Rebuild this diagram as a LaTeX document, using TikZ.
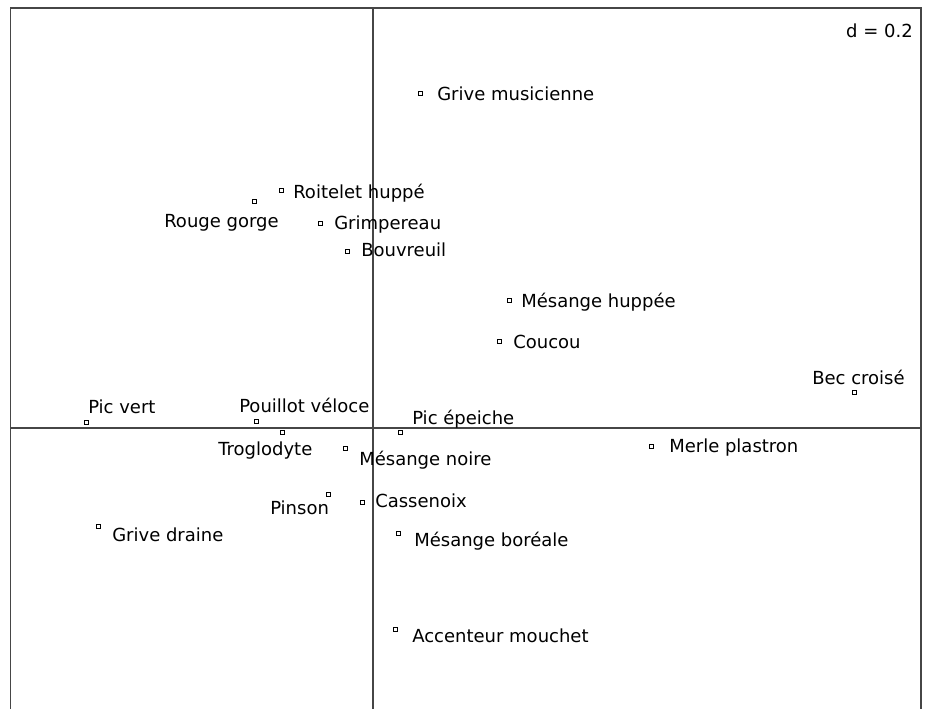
\documentclass[tikz,border=0pt]{standalone}
\usepackage{fontspec}
\setmainfont{DejaVu Sans}
\usepackage{xcolor}
\usetikzlibrary{positioning}
\definecolor{axisgray}{RGB}{70,70,70}

\begin{document}
\begin{tikzpicture}[
  x=0.75pt, y=-0.75pt,
  pt/.style={rectangle, draw=black, fill=white, line width=0.5pt,
             minimum size=3pt, inner sep=0pt},
  lbl/.style={anchor=mid west, inner sep=0pt, yshift=-2.25pt,
              font=\fontsize{13.5}{16}\selectfont},
  frame/.style={draw=axisgray, line width=0.9pt},
  axe/.style={draw=axisgray, line width=0.8pt},
]
  \useasboundingbox (0,0) rectangle (928,709);

  % frame and axes
  \draw[frame] (10.5,709) -- (10.5,8) -- (921,8) -- (921,709);
  \draw[frame, line width=1.4pt] (10.5,709) -- (10.5,8);
  \coordinate (vtop) at (373,8);
  \coordinate (vbot) at (373,709);
  \coordinate (hl) at (10.5,428);
  \coordinate (hr) at (921,428);
  \draw[axe] (vtop) -- (vbot);
  \draw[axe] (hl) -- (hr);
  \node[lbl, anchor=mid east] (scale) at (913,31) {d = 0.2};

  % species
  \node[pt] (gmus) at (420,93) {};
  \node[lbl] (gmusl) at (437,94) {Grive musicienne};
  \node[pt] (roit) at (281,190) {};
  \node[lbl] (roitl) at (293,192) {Roitelet huppé};
  \node[pt] (rouge) at (254,201) {};
  \node[lbl] (rougel) at (164,221) {Rouge gorge};
  \node[pt] (grim) at (320,223) {};
  \node[lbl] (griml) at (334,223) {Grimpereau};
  \node[pt] (bouv) at (347,251) {};
  \node[lbl] (bouvl) at (361,250) {Bouvreuil};
  \node[pt] (mhup) at (509,300) {};
  \node[lbl] (mhupl) at (521,301) {Mésange huppée};
  \node[pt] (couc) at (499,341) {};
  \node[lbl] (coucl) at (513,342) {Coucou};
  \node[pt] (bec) at (854,392) {};
  \node[lbl] (becl) at (812,378) {Bec croisé};
  \node[pt] (picv) at (86,422) {};
  \node[lbl] (picvl) at (88,407) {Pic vert};
  \node[pt] (pouil) at (256,421) {};
  \node[lbl] (pouill) at (239,406) {Pouillot véloce};
  \node[pt] (pice) at (400,432) {};
  \node[lbl] (picel) at (412,418) {Pic épeiche};
  \node[pt] (trog) at (282,432) {};
  \node[lbl] (trogl) at (218,449) {Troglodyte};
  \node[pt] (mnoi) at (345,448) {};
  \node[lbl] (mnoil) at (359,459) {Mésange noire};
  \node[pt] (merle) at (651,446) {};
  \node[lbl] (merlel) at (669,446) {Merle plastron};
  \node[pt] (pins) at (328,494) {};
  \node[lbl] (pinsl) at (270,508) {Pinson};
  \node[pt] (cass) at (362,502) {};
  \node[lbl] (cassl) at (375,501) {Cassenoix};
  \node[pt] (gdra) at (98,526) {};
  \node[lbl] (gdral) at (112,535) {Grive draine};
  \node[pt] (mbor) at (398,533) {};
  \node[lbl] (mborl) at (414,540) {Mésange boréale};
  \node[pt] (acc) at (395,629) {};
  \node[lbl] (accl) at (412,636) {Accenteur mouchet};
\end{tikzpicture}
\end{document}
